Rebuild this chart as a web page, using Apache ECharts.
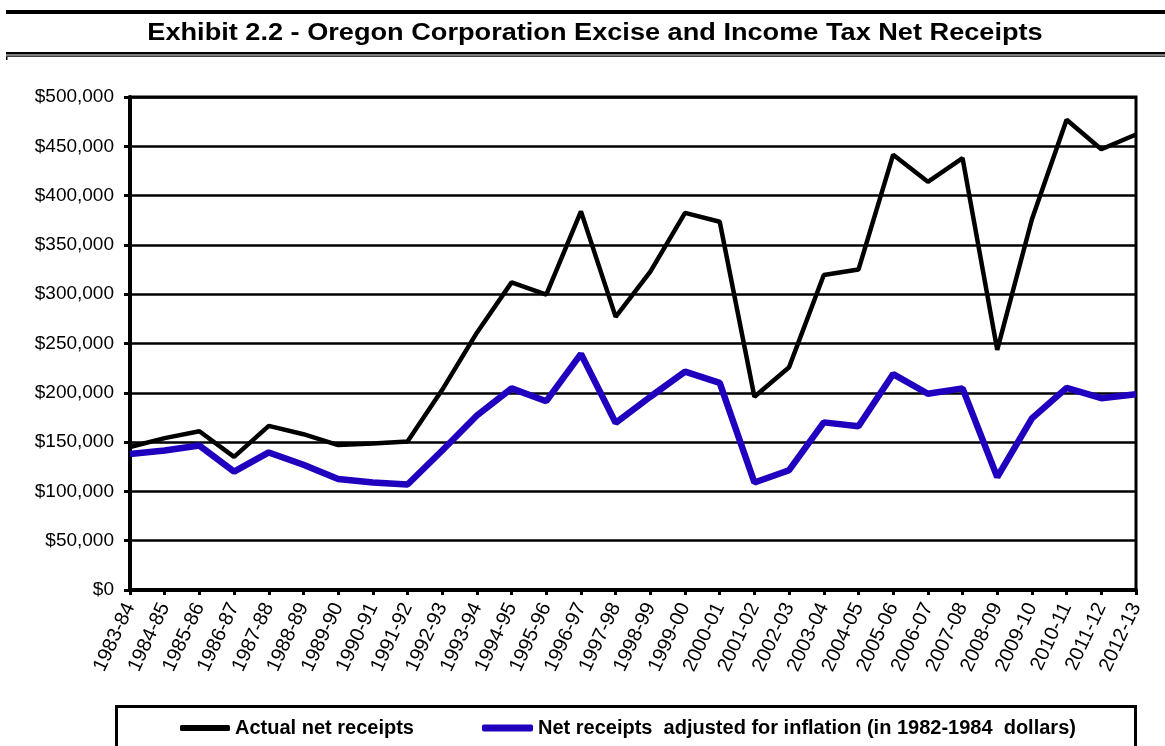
<!DOCTYPE html>
<html>
<head>
<meta charset="utf-8">
<script src="https://cdn.jsdelivr.net/npm/echarts@6/dist/echarts.min.js"></script>
<style>
html,body{margin:0;padding:0;background:#fff;}
#chart{width:1165px;height:746px;}
</style>
</head>
<body>
<div id="chart"></div>
<script>
const categories = ['1983-84','1984-85','1985-86','1986-87','1987-88','1988-89','1989-90','1990-91','1991-92','1992-93','1993-94','1994-95','1995-96','1996-97','1997-98','1998-99','1999-00','2000-01','2001-02','2002-03','2003-04','2004-05','2005-06','2006-07','2007-08','2008-09','2009-10','2010-11','2011-12','2012-13'];
const actualReceipts = [145000,154000,161000,135000,166500,158000,147000,148500,150500,203000,261000,312000,299500,384000,277000,323000,382500,373500,196000,226000,319500,325000,441500,414000,438000,243500,376000,477000,447000,462000];
const adjustedReceipts = [138000,141500,146500,120000,139500,127000,112500,109000,107000,141500,177000,204500,191500,239500,169500,196000,221500,210000,109000,121500,170000,166000,219000,199000,204500,114500,174000,205000,194500,198500];
const yTicks = {min:0, max:500000, interval:50000};
const titleText = 'Exhibit 2.2 - Oregon Corporation Excise and Income Tax Net Receipts';
const seriesNames = ['Actual net receipts','Net receipts  adjusted for inflation (in 1982-1984  dollars)'];

const FONT = '"Liberation Sans", Arial, Helvetica, sans-serif';
const BLUE = '#1f00bf';

const chart = echarts.init(document.getElementById('chart'), null, {renderer:'canvas'});
chart.setOption({
  animation:false,
  backgroundColor:'#fff',
  graphic:[
    {type:'rect', shape:{x:6, y:10, width:1159, height:4}, style:{fill:'#000'}, silent:true},
    {type:'text', x:595, y:34, scaleX:1.18, silent:true,
     style:{text:titleText, x:0, y:0, align:'center', verticalAlign:'middle',
            font:'bold 23px "Liberation Sans", Arial, sans-serif', fill:'#000'}},
    {type:'rect', shape:{x:6, y:52, width:1159, height:2.5}, style:{fill:'#000'}, silent:true},
    {type:'rect', shape:{x:6, y:55.5, width:1159, height:1.3}, style:{fill:'#000'}, silent:true},
    {type:'rect', shape:{x:6, y:57, width:1.5, height:3}, style:{fill:'#000'}, silent:true},
    {type:'rect', shape:{x:116.5, y:706.5, width:1019, height:60}, style:{fill:'none', stroke:'#000', lineWidth:3}, silent:true}
  ],
  legend:[
    {data:[seriesNames[0]], left:180, top:718, padding:0, itemWidth:50, itemHeight:6, icon:'roundRect',
     textStyle:{fontFamily:FONT, fontSize:20, fontWeight:'bold', color:'#000'}},
    {data:[seriesNames[1]], left:482, top:718, padding:0, itemWidth:51, itemHeight:7, icon:'roundRect',
     textStyle:{fontFamily:FONT, fontSize:20, fontWeight:'bold', color:'#000'}}
  ],
  grid:{left:130, right:29, top:97, bottom:156, show:true, borderColor:'#000', borderWidth:3, backgroundColor:'transparent'},
  xAxis:{
    type:'category', data:categories, boundaryGap:false,
    axisLine:{lineStyle:{color:'#000', width:4}},
    axisTick:{show:true, inside:false, length:5, alignWithLabel:true, lineStyle:{color:'#000', width:3}},
    axisLabel:{rotate:65, interval:0, margin:14, fontFamily:FONT, fontSize:20, color:'#000'},
    splitLine:{show:false}
  },
  yAxis:{
    type:'value', min:yTicks.min, max:yTicks.max, interval:yTicks.interval,
    axisLine:{show:true, lineStyle:{color:'#000', width:4}},
    axisTick:{show:true, inside:false, length:6, lineStyle:{color:'#000', width:3}},
    axisLabel:{margin:16, fontFamily:FONT, fontSize:19, color:'#000',
      formatter:function(v){return '$'+v.toLocaleString('en-US');}},
    splitLine:{show:true, lineStyle:{color:'#000', width:2.5}}
  },
  series:[
    {name:seriesNames[0], type:'line', data:actualReceipts, symbol:'none', z:3,
     lineStyle:{color:'#000', width:4.5}, itemStyle:{color:'#000'}},
    {name:seriesNames[1], type:'line', data:adjustedReceipts, symbol:'none', z:2,
     lineStyle:{color:BLUE, width:6.5}, itemStyle:{color:BLUE}}
  ]
});
</script>
</body>
</html>
